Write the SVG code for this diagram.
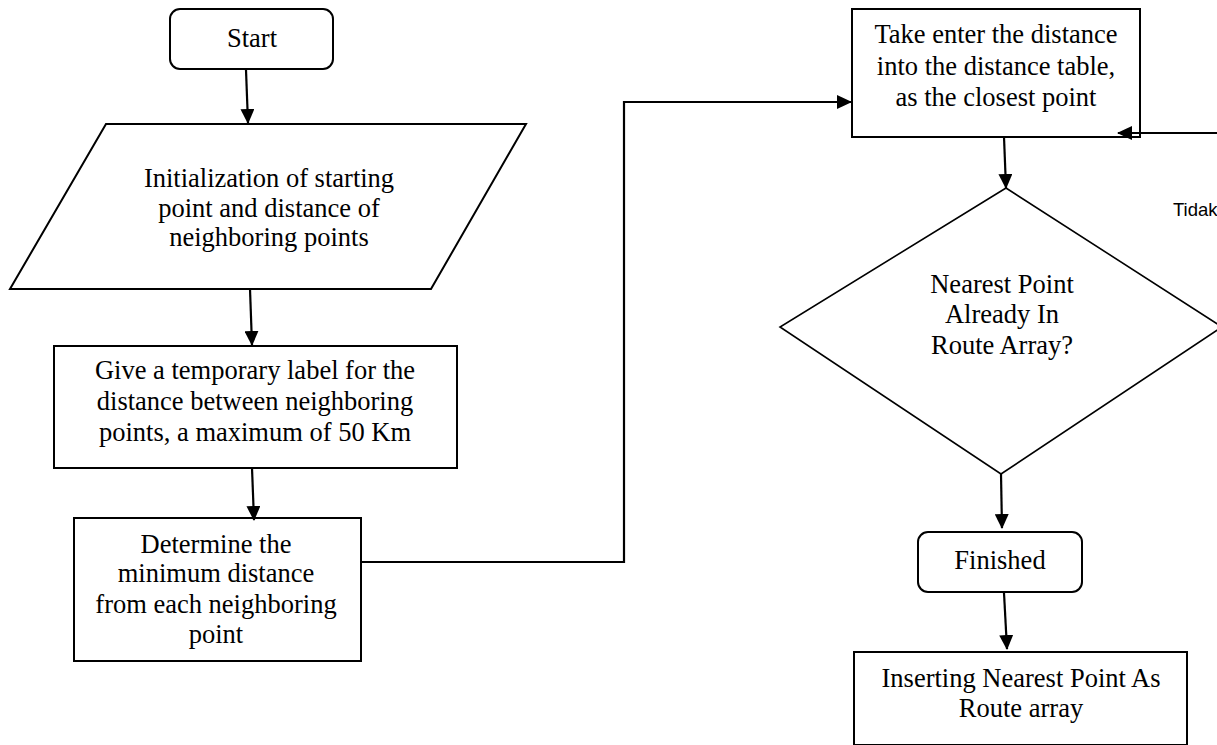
<svg xmlns="http://www.w3.org/2000/svg" width="1217" height="745" viewBox="0 0 1217 745">
<style>
.shape{fill:#fff;stroke:#000;stroke-width:2}
.dia{fill:#fff;stroke:#000;stroke-width:1.6}
.t{font-family:"Liberation Serif","Times New Roman",serif;font-size:26.5px;fill:#000;text-anchor:middle}
.s{font-family:"Liberation Sans",Arial,sans-serif;font-size:18.5px;fill:#000}
.c{fill:none;stroke:#000;stroke-width:2.2;marker-end:url(#ah)}
</style>
<defs>
<marker id="ah" viewBox="0 0 15 14" refX="14" refY="7" markerWidth="15" markerHeight="14" markerUnits="userSpaceOnUse" orient="auto">
<path d="M0,0 L15,7 L0,14 Z" fill="#000"/>
</marker>
</defs>
<rect width="1217" height="745" fill="#fff"/>
<g id="start">
<rect class="shape" x="170" y="9" width="163" height="60" rx="10"/>
<text class="t" x="252" y="47">Start</text>
</g>
<g id="init">
<polygon class="shape" points="106,124 526,124 431,289 10,289"/>
<text class="t" x="269" y="187">Initialization of starting</text>
<text class="t" x="269" y="216.5">point and distance of</text>
<text class="t" x="269" y="246">neighboring points</text>
</g>
<g id="label">
<rect class="shape" x="54" y="346" width="403" height="122"/>
<text class="t" x="255" y="379">Give a temporary label for the</text>
<text class="t" x="255" y="410">distance between neighboring</text>
<text class="t" x="255" y="441">points, a maximum of 50 Km</text>
</g>
<g id="determine">
<rect class="shape" x="74" y="518" width="287" height="143"/>
<text class="t" x="216" y="553">Determine the</text>
<text class="t" x="216" y="582">minimum distance</text>
<text class="t" x="216" y="613">from each neighboring</text>
<text class="t" x="216" y="643">point</text>
</g>
<g id="take">
<rect class="shape" x="852" y="9" width="288" height="128"/>
<text class="t" x="996" y="43">Take enter the distance</text>
<text class="t" x="996" y="74.5">into the distance table,</text>
<text class="t" x="996" y="106">as the closest point</text>
</g>
<g id="decision">
<polygon class="dia" points="1006,188 1222,327 1001,474 780,327"/>
<text class="t" x="1002" y="293">Nearest Point</text>
<text class="t" x="1002" y="323">Already In</text>
<text class="t" x="1002" y="354">Route Array?</text>
</g>
<g id="finished">
<rect class="shape" x="918" y="532" width="164" height="60" rx="10"/>
<text class="t" x="1000" y="569">Finished</text>
</g>
<g id="insert">
<rect class="shape" x="854" y="652" width="333" height="93"/>
<text class="t" x="1021" y="686.5">Inserting Nearest Point As</text>
<text class="t" x="1021" y="717">Route array</text>
</g>
<g id="tidak-label">
<text class="s" x="1173" y="216">Tidak</text>
</g>
<g id="connectors">
<path class="c" d="M246,70 L248,123"/>
<path class="c" d="M250,289 L252,345"/>
<path class="c" d="M252,468 L254,520"/>
<path class="c" d="M362,562 H624 V102 H851"/>
<path class="c" d="M1217,133 H1118"/>
<path class="c" d="M1004,137 L1006,188"/>
<path class="c" d="M1001,474 L1002,528"/>
<path class="c" d="M1004,593 L1007,649"/>
</g>
</svg>
